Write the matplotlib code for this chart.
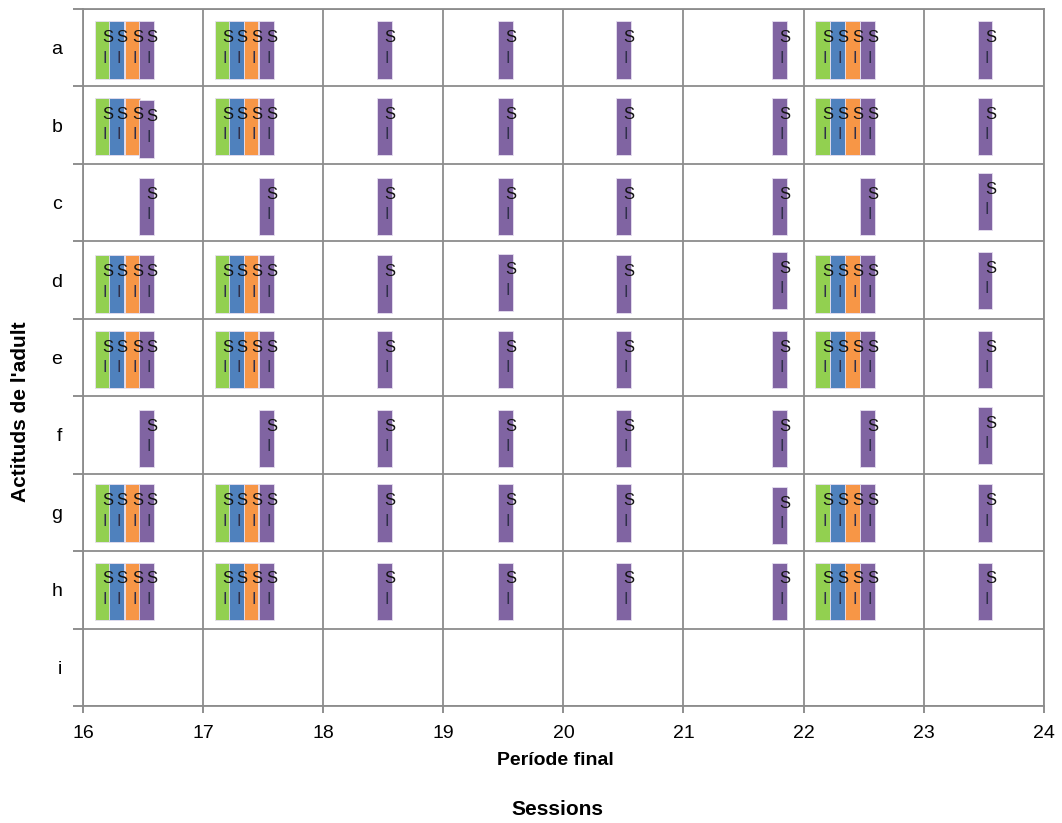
import numpy as np
import matplotlib
matplotlib.use("Agg")
import matplotlib.pyplot as plt

plt.rcParams['font.family'] = ['Liberation Sans', 'DejaVu Sans']

# rows of the y axis (a at the top)
rows = ['a', 'b', 'c', 'd', 'e', 'f', 'g', 'h', 'i']
row_pos = [8.5, 7.5, 6.5, 5.5, 4.5, 3.5, 2.5, 1.5, 0.5]

# rows that carry the four-colour groups
full_rows = ['a', 'b', 'd', 'e', 'g', 'h']
full_y = [8.47, 7.48, 5.45, 4.47, 2.49, 1.48]

green_x = [16.16, 17.16, 22.16]
blue_x = [16.28, 17.28, 22.28]
orange_x = [16.41, 17.40, 22.41]

# purple marks: same sessions in every row a-h
purple_x = [16.53, 17.53, 18.51, 19.52, 20.50, 21.80, 22.53, 23.51]
purple_y = {
    'a': [8.47, 8.47, 8.47, 8.47, 8.47, 8.47, 8.47, 8.47],
    'b': [7.45, 7.48, 7.48, 7.48, 7.48, 7.48, 7.48, 7.48],
    'c': [6.45, 6.45, 6.45, 6.45, 6.45, 6.45, 6.45, 6.51],
    'd': [5.45, 5.45, 5.45, 5.47, 5.45, 5.49, 5.45, 5.49],
    'e': [4.47, 4.47, 4.47, 4.47, 4.47, 4.47, 4.47, 4.47],
    'f': [3.45, 3.45, 3.45, 3.45, 3.45, 3.45, 3.45, 3.49],
    'g': [2.49, 2.49, 2.49, 2.49, 2.49, 2.46, 2.49, 2.49],
    'h': [1.48, 1.48, 1.48, 1.48, 1.48, 1.48, 1.48, 1.48],
}

colors = {'green': '#92D050', 'blue': '#4F81BD', 'orange': '#F79646', 'purple': '#8064A2'}

mark_w = 0.122
mark_h = 0.74

fig = plt.figure(figsize=(10.62, 8.23), dpi=100)
ax = fig.add_axes([0.0782, 0.1422, 0.9046, 0.8469])


def draw_marks(xs, ys, col):
    ax.bar(xs, [mark_h] * len(xs), width=mark_w, bottom=[y - mark_h / 2 for y in ys],
           color=colors[col], edgecolor='#e6dff0', linewidth=0.6, zorder=3)


labels = []
for ser, xs in (('green', green_x), ('blue', blue_x), ('orange', orange_x)):
    for y in full_y:
        draw_marks(xs, [y] * len(xs), ser)
        labels += [(x, y) for x in xs]

for r in rows[:8]:
    # rows c and f only have the purple mark
    xs, ys = purple_x, purple_y[r]
    draw_marks(xs, ys, 'purple')
    labels += list(zip(xs, ys))

for x, y in labels:
    ax.text(x + 0.045, y + 0.16, 'S', fontsize=12, ha='center', va='center',
            color='#141414', zorder=5)
    ax.text(x + 0.02, y - 0.105, 'I', fontsize=12, ha='center', va='center',
            color='#30304a', zorder=5)

ax.set_xlim(16, 24)
ax.set_ylim(0, 9)
ax.set_xticks(range(16, 25))
ax.set_yticks(range(0, 10))
ax.set_yticklabels([])
ax.set_yticks(row_pos, minor=True)
ax.set_yticklabels(rows, minor=True, fontsize=14)
ax.tick_params(axis='y', which='major', length=7, width=1.3, color='#868686', direction='out')
ax.tick_params(axis='y', which='minor', length=0, pad=15)
ax.tick_params(axis='x', which='major', length=5, width=1.3, color='#868686',
               direction='out', labelsize=14, pad=9)
ax.grid(True, which='major', color='#8c8c8c', linewidth=1.3, zorder=1)
ax.set_axisbelow(True)
for s in ax.spines.values():
    s.set_color('#8c8c8c')
    s.set_linewidth(1.3)

fig.text(0.523, 0.076, 'Període final', ha='center', va='center', fontsize=14, fontweight='bold')
fig.text(0.525, 0.016, 'Sessions', ha='center', va='center', fontsize=15, fontweight='bold')
fig.text(0.019, 0.50, "Actituds de l'adult", ha='center', va='center', rotation=90,
         fontsize=15, fontweight='bold')

fig.savefig('out.png', dpi=100)
